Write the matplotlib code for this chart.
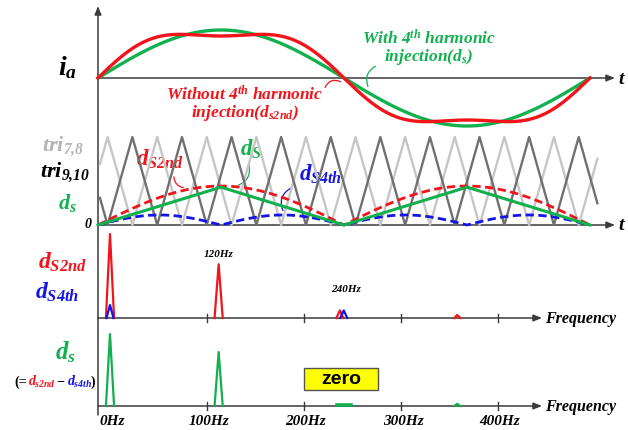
import numpy as np
import matplotlib
matplotlib.use("Agg")
import matplotlib.pyplot as plt
from matplotlib.patches import Rectangle
from matplotlib.transforms import blended_transform_factory

# ---- data ----
# phase current, one period, t in [0, 1]
amp_with = 1.00          # sinusoid with 4th harmonic injection
amp_without = 1.05       # flat topped current without injection
third_ratio = 1 / 6      # flattening of the red current

# duty / carriers, t in [0, 1], carrier peak = 1
carrier_period = 0.1008
carrier_phase = 0.0195
carrier_start, carrier_end = 0.004, 1.015
s2nd_amp = 0.443
s4th_amp = 0.114
ds_t = [0, 0.25, 0.5, 0.75, 1.0]
ds_v = [0, 0.43, 0, 0.43, 0]

# spectra (Hz, relative height)
s2nd_f = [0, 112, 237, 358]
s2nd_h = [1.0, 0.64, 0.09, 0.035]
s4th_f = [0, 241]
s4th_h = [0.155, 0.09]
ds_f = [0, 112, 358]
ds_h = [1.0, 0.75, 0.03]
ds_flat = [234, 248]
freq_ticks = [100, 200, 300, 400]
freq_labels = ["0Hz", "100Hz", "200Hz", "300Hz", "400Hz"]

RED = "#F2141B"
GREEN = "#12B04F"
BLUE = "#1414E6"
LGRAY = "#C6C6C6"
DGRAY = "#707070"
AX = "#3A3A3A"

plt.rcParams["font.family"] = "Liberation Serif"
plt.rcParams["font.weight"] = "bold"
plt.rcParams["font.style"] = "italic"
plt.rcParams["mathtext.fontset"] = "custom"
plt.rcParams["mathtext.rm"] = "Liberation Serif:italic:bold"
plt.rcParams["mathtext.it"] = "Liberation Serif:italic:bold"
plt.rcParams["mathtext.bf"] = "Liberation Serif:italic:bold"

W, H = 628, 431
fig = plt.figure(figsize=(6.28, 4.31), dpi=100)
bg = fig.add_axes([0, 0, 1, 1])
bg.set_xlim(0, W)
bg.set_ylim(H, 0)
bg.axis("off")


def panel(x0, xs, y0, ys):
    ax = fig.add_axes([0, 0, 1, 1])
    ax.set_xlim(-x0 / xs, (W - x0) / xs)
    ax.set_ylim((y0 - H) / ys, y0 / ys)
    ax.axis("off")
    ax.patch.set_alpha(0)
    return ax


def arrow(x1, y1, x2, y2):
    bg.annotate("", xy=(x2, y2), xytext=(x1, y1),
                arrowprops=dict(arrowstyle="-|>,head_length=0.5,head_width=0.2",
                                color=AX, lw=1.1, shrinkA=0, shrinkB=0))


def leader(x1, y1, x2, y2, color, rad):
    bg.annotate("", xy=(x2, y2), xytext=(x1, y1),
                arrowprops=dict(arrowstyle="-", color=color, lw=0.9,
                                connectionstyle="arc3,rad=%s" % rad))


# axes lines
arrow(98, 416, 98, 7)
arrow(98, 79, 615, 79)
arrow(98, 226, 615, 226)
arrow(98, 319, 542, 319)
arrow(98, 407, 542, 407)

# ---- panel 1: phase current ----
ax1 = panel(98, 492, 79, 48)
t = np.linspace(0, 1, 500)
th = 2 * np.pi * t
ax1.plot(t, amp_with * np.sin(th), color=GREEN, lw=2.4)
ax1.plot(t, amp_without * (np.sin(th) + third_ratio * np.sin(3 * th)), color=RED, lw=2.4)

# ---- panel 2: carriers and duties ----
ax2 = panel(98, 492, 226, 88)
k = np.arange(-2, 25)
verts = carrier_phase + k * carrier_period / 2
tc = np.union1d(np.linspace(carrier_start, carrier_end, 800),
                verts[(verts > carrier_start) & (verts < carrier_end)])
light = 1 - 2 * np.abs(((tc - carrier_phase) / carrier_period + 0.5) % 1 - 0.5)
ax2.plot(tc, light, color=LGRAY, lw=1.7)
ax2.plot(tc, 1 - light, color=DGRAY, lw=1.7)
ax2.plot(t, s2nd_amp * np.abs(np.sin(th)), color=RED, lw=2, ls=(0, (3, 1.6)))
ax2.plot(t, s4th_amp * np.abs(np.sin(2 * th)), color=BLUE, lw=2, ls=(0, (3, 1.6)))
ax2.plot(ds_t, ds_v, color=GREEN, lw=2.2)

# ---- panel 3 / 4: spectra ----
ax3 = panel(110, 0.97, 319, 84)
ax4 = panel(110, 0.97, 407, 72)


def spikes(ax, freqs, heights, color, hw=4.2):
    for f, h in zip(freqs, heights):
        w = hw if h > 0.3 else (3.6 if h > 0.05 else 3.0)
        ax.plot([f - w, f, f + w], [0, h, 0], color=color, lw=1.6)


spikes(ax3, s2nd_f, s2nd_h, RED)
spikes(ax3, s4th_f, s4th_h, BLUE)
spikes(ax4, ds_f, ds_h, GREEN)
ax4.plot(ds_flat, [0.01, 0.01], color=GREEN, lw=2.6)

for ax, y0 in ((ax3, 319), (ax4, 407)):
    tr = blended_transform_factory(ax.transData, bg.transData)
    for f in freq_ticks:
        bg.plot([f, f], [y0 - 4, y0 + 4], color=AX, lw=1, transform=tr)

tr4 = blended_transform_factory(ax4.transData, bg.transData)
for f, lab in zip([0] + freq_ticks, freq_labels):
    bg.text(f + 2, 422, lab, transform=tr4, ha="center", va="center", fontsize=11)
tr3 = blended_transform_factory(ax3.transData, bg.transData)
bg.text(112, 255, "120Hz", transform=tr3, ha="center", va="center", fontsize=8)
bg.text(243, 290, "240Hz", transform=tr3, ha="center", va="center", fontsize=8)

# ---- labels ----
bg.text(67, 68, "$i_a$", fontsize=20, ha="center", va="center")
bg.text(621, 79, "t", fontsize=14, ha="center", va="center")
bg.text(621, 226, "t", fontsize=14, ha="center", va="center")
bg.text(545, 319, "Frequency", fontsize=11.5, ha="left", va="center")
bg.text(545, 407, "Frequency", fontsize=11.5, ha="left", va="center")

bg.text(245, 104, "Without 4$^{th}$ harmonic\ninjection($d_{s2nd}$)", color=RED,
        fontsize=12.5, ha="center", va="center", linespacing=0.9)
bg.text(429, 48, "With 4$^{th}$ harmonic\ninjection($d_s$)", color=GREEN,
        fontsize=12.5, ha="center", va="center", linespacing=0.9)
leader(324, 91, 343, 84, RED, -0.6)
leader(378, 66, 369, 90, GREEN, 0.5)

bg.text(63, 146, "$tri_{7{,}8}$", color="#B4B4B4", fontsize=16, ha="center", va="center")
bg.text(65, 172, "$tri_{9{,}10}$", color="black", fontsize=16, ha="center", va="center")
bg.text(67, 203, "$d_s$", color=GREEN, fontsize=16, ha="center", va="center")
bg.text(88, 225, "0", fontsize=10, ha="center", va="center")
bg.text(160, 159, "$d_{S2nd}$", color=RED, fontsize=16.5, ha="center", va="center")
bg.text(251, 149, "$d_S$", color=GREEN, fontsize=16.5, ha="center", va="center")
bg.text(320, 174, "$d_{S4th}$", color=BLUE, fontsize=16.5, ha="center", va="center")
leader(174, 175, 186, 189, RED, 0.5)
leader(248, 163, 236, 187, GREEN, -0.5)
leader(293, 188, 284, 214, BLUE, 0.5)

bg.text(62, 262, "$d_{S2nd}$", color=RED, fontsize=17, ha="center", va="center")
bg.text(57, 292, "$d_{S4th}$", color=BLUE, fontsize=17, ha="center", va="center")
bg.text(65, 352, "$d_s$", color=GREEN, fontsize=18, ha="center", va="center")

parts = [("(=", "black", 14, 10), ("$d_{s2nd}$", RED, 28, 10), ("\u2212", "black", 56, 10),
         ("$d_{s4th}$", BLUE, 67, 10), (")", "black", 91, 10)]
for s, c, x, fs in parts:
    bg.text(x, 382, s, color=c, fontsize=fs, ha="left", va="center", style="normal")

bg.add_patch(Rectangle((304, 369), 74, 22, facecolor="#FFFF00", edgecolor="#555555", lw=1))
bg.text(341, 380, "zero", family="Liberation Sans", style="normal", weight="bold",
        fontsize=14, ha="center", va="center")

fig.savefig("out.png", dpi=100)
